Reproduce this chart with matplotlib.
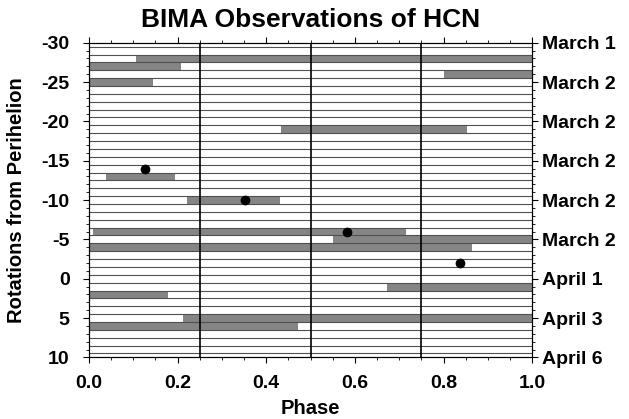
import matplotlib
matplotlib.use("Agg")
import matplotlib.pyplot as plt
import numpy as np

plt.rcParams['font.family'] = ['Liberation Sans', 'DejaVu Sans']
plt.rcParams['font.weight'] = 'bold'

# Observation bars: rotation row, phase start, phase end
bar_rot = [-28, -27, -26, -25, -19, -13, -10, -6, -5, -4, 1, 2, 5, 6]
bar_start = [0.107, 0.0, 0.80, 0.0, 0.433, 0.039, 0.222, 0.008, 0.551, 0.0, 0.672, 0.0, 0.211, 0.0]
bar_end = [1.0, 0.207, 1.0, 0.145, 0.852, 0.194, 0.431, 0.715, 1.0, 0.864, 1.0, 0.179, 1.0, 0.471]

# Dots
dot_phase = [0.127, 0.352, 0.583, 0.837]
dot_rot = [-14, -10, -6, -2]

# Ticks
y_ticks = [-30, -25, -20, -15, -10, -5, 0, 5, 10]
y_ticklabels = ['-30', '-25', '-20', '-15', '-10', '-5', '0', '5', '10']
right_labels = ['March 1', 'March 2', 'March 2', 'March 2', 'March 2', 'March 2',
                'April 1', 'April 3', 'April 6']
x_ticks = [0.0, 0.2, 0.4, 0.6, 0.8, 1.0]
x_ticklabels = ['0.0', '0.2', '0.4', '0.6', '0.8', '1.0']
phase_lines = [0.25, 0.5, 0.75]

fig = plt.figure(figsize=(6.29, 4.19), dpi=100)
ax = fig.add_axes([0.1415, 0.147, 0.7045, 0.751])

widths = [e - s for s, e in zip(bar_start, bar_end)]
ax.barh(bar_rot, widths, left=bar_start, height=1.0, color='#858585', zorder=2)

for r in np.arange(-29.5, 10, 1.0):
    ax.axhline(r, color='#505050', lw=0.8, zorder=3)
for p in phase_lines:
    ax.axvline(p, color='black', lw=1.2, zorder=4)

ax.plot(dot_phase, dot_rot, 'o', color='black', ms=6, zorder=5)

ax.set_xlim(0, 1)
ax.set_ylim(10, -30)
ax.set_xticks(x_ticks)
ax.set_xticklabels(x_ticklabels, fontsize=14, fontweight='bold')
ax.set_xticks(np.arange(0, 1.0001, 0.05), minor=True)
ax.set_yticks(y_ticks)
ax.set_yticklabels(y_ticklabels, fontsize=14, fontweight='bold')
ax.set_yticks(np.arange(-30, 11, 1), minor=True)
ax.tick_params(axis='both', which='major', length=4, width=0.8, top=True, right=True)
ax.tick_params(axis='y', which='major', pad=10)
ax.tick_params(axis='x', which='major', pad=9)
ax.tick_params(axis='both', which='minor', length=2.5, width=0.6, top=True, right=True)

ax2 = ax.twinx()
ax2.set_ylim(10, -30)
ax2.set_yticks(y_ticks)
ax2.set_yticklabels(right_labels, fontsize=14, fontweight='bold')
ax2.set_yticks(np.arange(-30, 11, 1), minor=True)
ax2.tick_params(axis='y', which='major', length=4, width=0.8, pad=3)
ax2.tick_params(axis='y', which='minor', length=2.5, width=0.6)

ax.set_xlabel('Phase', fontsize=14.5, fontweight='bold')
ax.xaxis.set_label_coords(0.5, -0.132)
ax.set_ylabel('Rotations from Perihelion', fontsize=14.5, fontweight='bold')
ax.yaxis.set_label_coords(-0.142, 0.5)
ax.set_title('BIMA Observations of HCN', fontsize=19, fontweight='bold', pad=11)

fig.savefig('out.png', dpi=100)
